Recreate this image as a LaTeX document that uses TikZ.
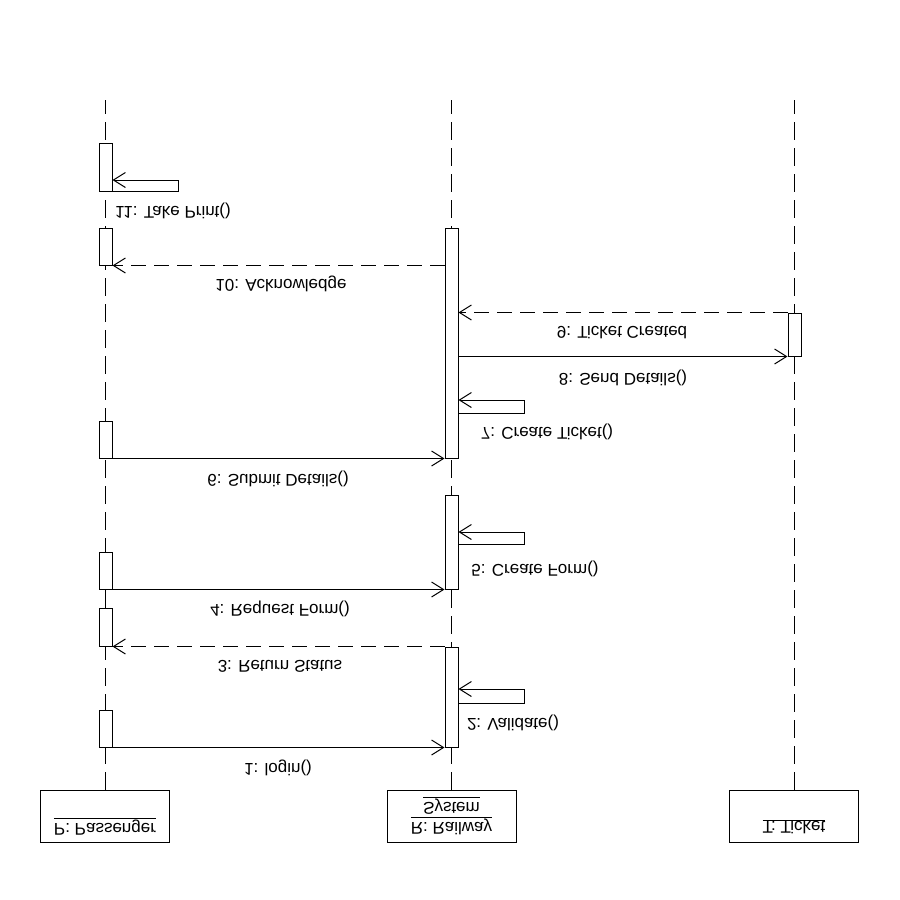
\documentclass[tikz,border=0pt]{standalone}
\usepackage{fontspec}
\setmainfont{Liberation Sans}
\usepackage{graphicx}
\usetikzlibrary{arrows.meta}

% text is drawn mirrored top-to-bottom, like the rest of the diagram
\newcommand{\flipv}[1]{\scalebox{1}[-1]{#1}}

\begin{document}
\begin{tikzpicture}[x=1pt,y=-1pt,
  every node/.style={font=\fontsize{17}{20}\selectfont, inner sep=0pt, text=black},
  head/.style={draw, line width=1pt, minimum width=129pt, minimum height=52pt},
  bar/.style={draw, fill=white, line width=1pt, minimum width=13pt},
  life/.style={line width=1pt, dash pattern=on 18pt off 8pt},
  msg/.style={line width=1pt, -{Straight Barb[length=12pt,width=15pt]}},
  reply/.style={msg, dash pattern=on 15pt off 8pt}]

\fill[white] (0,0) rectangle (900,900);
\useasboundingbox (0,0) rectangle (900,900);

% object heads
\node[head] (pas) at (105,816) {};
\node[head] (rail) at (451.5,816) {};
\node[head] (tic) at (794,816) {};
\node (pastxt) at (105,826.5) {\flipv{\underline{P: Passenger}}};
\node (railtxt) at (451.5,816) {\flipv{\begin{tabular}{@{}c@{}}\underline{R: Railway}\\\underline{System}\end{tabular}}};
\node (tictxt) at (794,826.5) {\flipv{\underline{T: Ticket}}};

% lifelines
\coordinate (ptop) at (105.5,100);
\coordinate (rtop) at (451.5,100);
\coordinate (ttop) at (794.5,100);
\draw[life] (pas.north -| ptop) -- (ptop);
\draw[life] (rail.north -| rtop) -- (rtop);
\draw[life] (tic.north -| ttop) -- (ttop);

% activation bars
\node[bar, minimum height=48pt] (pa1) at (105.5,167) {};
\node[bar, minimum height=37pt] (pa2) at (105.5,246.5) {};
\node[bar, minimum height=37pt] (pa3) at (105.5,439.5) {};
\node[bar, minimum height=37pt] (pa4) at (105.5,570.5) {};
\node[bar, minimum height=38pt] (pa5) at (105.5,627) {};
\node[bar, minimum height=37pt] (pa6) at (105.5,728.5) {};
\node[bar, minimum height=230pt] (ra1) at (451.5,343) {};
\node[bar, minimum height=94pt] (ra2) at (451.5,542) {};
\node[bar, minimum height=100pt] (ra3) at (451.5,697) {};
\node[bar, minimum height=43pt] (tk) at (794.5,334.5) {};

% self-call loops
\coordinate (s2t) at (524,689);  \coordinate (s2b) at (524,703);
\coordinate (s5t) at (524,532);  \coordinate (s5b) at (524,544);
\coordinate (s7t) at (524,400);  \coordinate (s7b) at (524,413);
\coordinate (s11t) at (178,180); \coordinate (s11b) at (178,191);

% messages
\draw[msg] (pa6.south east) -- (ra3.south west);
\draw[msg] (ra3.east |- s2b) -- (s2b) -- (s2t) -- (ra3.east |- s2t);
\draw[reply] (ra3.north west) -- (pa5.south east);
\draw[msg] (pa4.south east) -- (ra2.south west);
\draw[msg] (ra2.east |- s5b) -- (s5b) -- (s5t) -- (ra2.east |- s5t);
\draw[msg] (pa3.south east) -- (ra1.south west);
\draw[msg] (ra1.east |- s7b) -- (s7b) -- (s7t) -- (ra1.east |- s7t);
\draw[msg] (ra1.east |- tk.south) -- (tk.south west);
\draw[reply] (tk.north west) -- (ra1.east |- tk.north);
\draw[reply] (ra1.west |- pa2.south) -- (pa2.south east);
\draw[msg] (pa1.east |- s11b) -- (s11b) -- (s11t) -- (pa1.east |- s11t);

% message labels
\node (l1) at (278,768) {\flipv{1: login()}};
\node (l2) at (513,723) {\flipv{2: Validate()}};
\node (l3) at (280,666) {\flipv{3: Return Status}};
\node (l4) at (280,609) {\flipv{4: Request Form()}};
\node (l5) at (535,569) {\flipv{5: Create Form()}};
\node (l6) at (278,479) {\flipv{6: Submit Details()}};
\node (l7) at (547,432) {\flipv{7: Create Ticket()}};
\node (l8) at (623,378) {\flipv{8: Send Details()}};
\node (l9) at (622,333) {\flipv{9: Ticket Created}};
\node (l10) at (281,284) {\flipv{10: Acknowledge}};
\node (l11) at (173,211) {\flipv{11: Take Print()}};
\end{tikzpicture}
\end{document}
